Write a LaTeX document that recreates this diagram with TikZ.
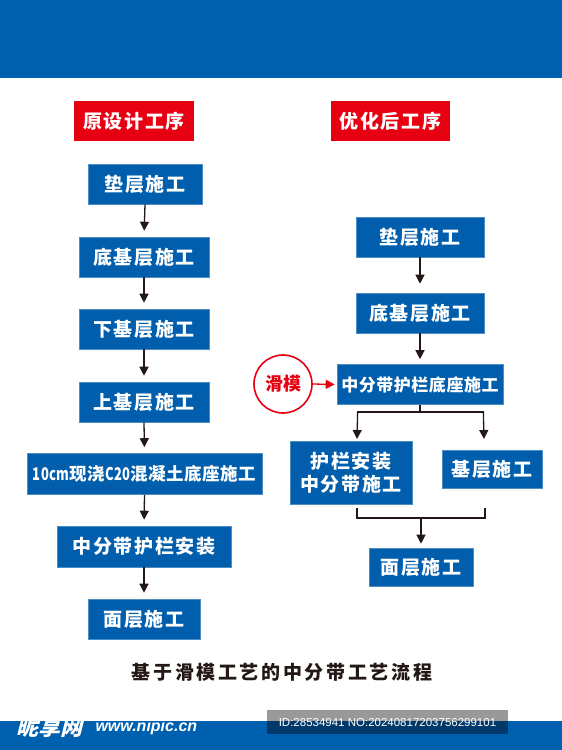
\documentclass[tikz,border=0pt]{standalone}
\usepackage{fontspec}
\setmainfont{Noto Sans CJK SC}[LetterSpace=8]
\newfontfamily\wmfont{Noto Sans CJK SC}[FakeSlant=0.25]
\newfontfamily\latinfont{Liberation Sans}
\usetikzlibrary{arrows.meta}
\definecolor{bandblue}{RGB}{0,96,176}
\definecolor{boxblue}{RGB}{0,94,172}
\definecolor{hdrred}{RGB}{230,0,18}
\newcommand{\narrowtxt}[1]{\scalebox{0.74}[1]{#1}}
\tikzset{
  box/.style={draw=boxblue!70!white,line width=0.6pt,fill=boxblue,text=white,font=\fontsize{19}{22}\selectfont\bfseries,inner sep=0pt,align=center},
  hdr/.style={fill=hdrred,text=white,font=\fontsize{19}{22}\selectfont\bfseries,inner sep=0pt,minimum width=120pt,minimum height=40pt},
  arr/.style={line width=1.3pt,draw={rgb,255:red,35;green,24;blue,21},-{Triangle[width=9pt,length=9pt]}},
  ln/.style={line width=1.3pt,draw={rgb,255:red,35;green,24;blue,21}},
}
\begin{document}
\begin{tikzpicture}[x=1pt,y=-1pt]
\useasboundingbox (0,0) rectangle (562,750);
\fill[white] (0,0) rectangle (562,750);
% bands
\fill[bandblue] (0,0) rectangle (562,78);
\fill[bandblue] (0,721) rectangle (562,750);
% headers
\node[hdr] (h1) at (134,121) {原设计工序};
\node[hdr,minimum width=119pt] (h2) at (390.5,121) {优化后工序};
% left column
\node[box,minimum width=114pt,minimum height=40pt] (l1) at (145,184) {垫层施工};
\node[box,minimum width=130pt,minimum height=40pt] (l2) at (144,257) {底基层施工};
\node[box,minimum width=130pt,minimum height=40pt] (l3) at (144,329) {下基层施工};
\node[box,minimum width=130pt,minimum height=40pt] (l4) at (144,402) {上基层施工};
\node[box,minimum width=235pt,minimum height=41pt,font=\fontsize{17.5}{20}\selectfont\bfseries\addfontfeature{LetterSpace=3}] (l5) at (144.5,474) {\narrowtxt{10cm}现浇\narrowtxt{C20}混凝土底座施工};
\node[box,minimum width=174pt,minimum height=41pt] (l6) at (144,546.5) {中分带护栏安装};
\node[box,minimum width=112pt,minimum height=40pt] (l7) at (144,619) {面层施工};
\foreach \a/\b in {l1/l2,l2/l3,l3/l4,l4/l5,l5/l6,l6/l7}
  \draw[arr,shorten >=6pt] (\a.south) -- (\b.north);
% right column
\node[box,minimum width=128pt,minimum height=40pt] (r1) at (420,237) {垫层施工};
\node[box,minimum width=128pt,minimum height=40pt] (r2) at (420,313) {底基层施工};
\node[box,minimum width=166pt,minimum height=40pt,font=\fontsize{17}{20}\selectfont\bfseries\addfontfeature{LetterSpace=3}] (r3) at (420,384.5) {中分带护栏底座施工};
\node[box,minimum width=122pt,minimum height=63pt,font=\fontsize{19}{23}\selectfont\bfseries] (r4) at (351,473) {护栏安装\\中分带施工};
\node[box,minimum width=100pt,minimum height=38pt] (r5) at (492,469.5) {基层施工};
\node[box,minimum width=104pt,minimum height=38pt] (r6) at (421,567) {面层施工};
\node[circle,draw=hdrred,line width=1.6pt,fill=white,minimum size=58pt,inner sep=0pt,text=hdrred,font=\fontsize{18}{20}\selectfont\bfseries\addfontfeature{LetterSpace=0}] (c) at (283,384) {滑模};
\draw[arr,shorten >=9pt] (r1.south) -- (r2.north);
\draw[arr,shorten >=5pt] (r2.south) -- (r3.north);
\draw[arr,draw=hdrred,shorten >=2pt] (c.east) -- (r3.west);
% fork
\coordinate (fk) at (420,412);
\coordinate (fl) at (357,412);
\coordinate (fr) at (484,412);
\coordinate (tl) at (357,439);
\coordinate (tr) at (484,439);
\draw[ln] (r3.south) -- (fk);
\draw[ln] (fl) -- (fr);
\draw[arr] ([xshift=0.65pt]fl) -- (tl);
\draw[arr] ([xshift=-0.65pt]fr) -- (tr);
% merge
\coordinate (ml0) at (357,508);
\coordinate (ml) at (357,518);
\coordinate (mr) at (485,518);
\coordinate (mr0) at (485,508);
\coordinate (mm) at (421,518);
\draw[ln] (ml0) -- (ml) -- (mr) -- (mr0);
\draw[arr,shorten >=4pt] (mm) -- (r6.north);
% title
\node[font=\fontsize{19}{22}\selectfont\bfseries\addfontfeature{LetterSpace=14},text={rgb,255:red,35;green,24;blue,21}] (title) at (282,672) {基于滑模工艺的中分带工艺流程};
% watermark
\node[anchor=west,text=white,font=\fontsize{22}{24}\wmfont\bfseries\addfontfeature{LetterSpace=0}] (wm1) at (13,727) {昵享网};
\node[anchor=west,text=white,font=\fontsize{16}{18}\latinfont\bfseries\itshape] (wm2) at (92,727) {www.nipic.cn};
\fill[black,opacity=0.4] (267,710) rectangle (508,734);
\node[text=white,font=\fontsize{11.5}{13}\latinfont] (id) at (387.5,722.5) {ID:28534941 NO:20240817203756299101};
\end{tikzpicture}
\end{document}
